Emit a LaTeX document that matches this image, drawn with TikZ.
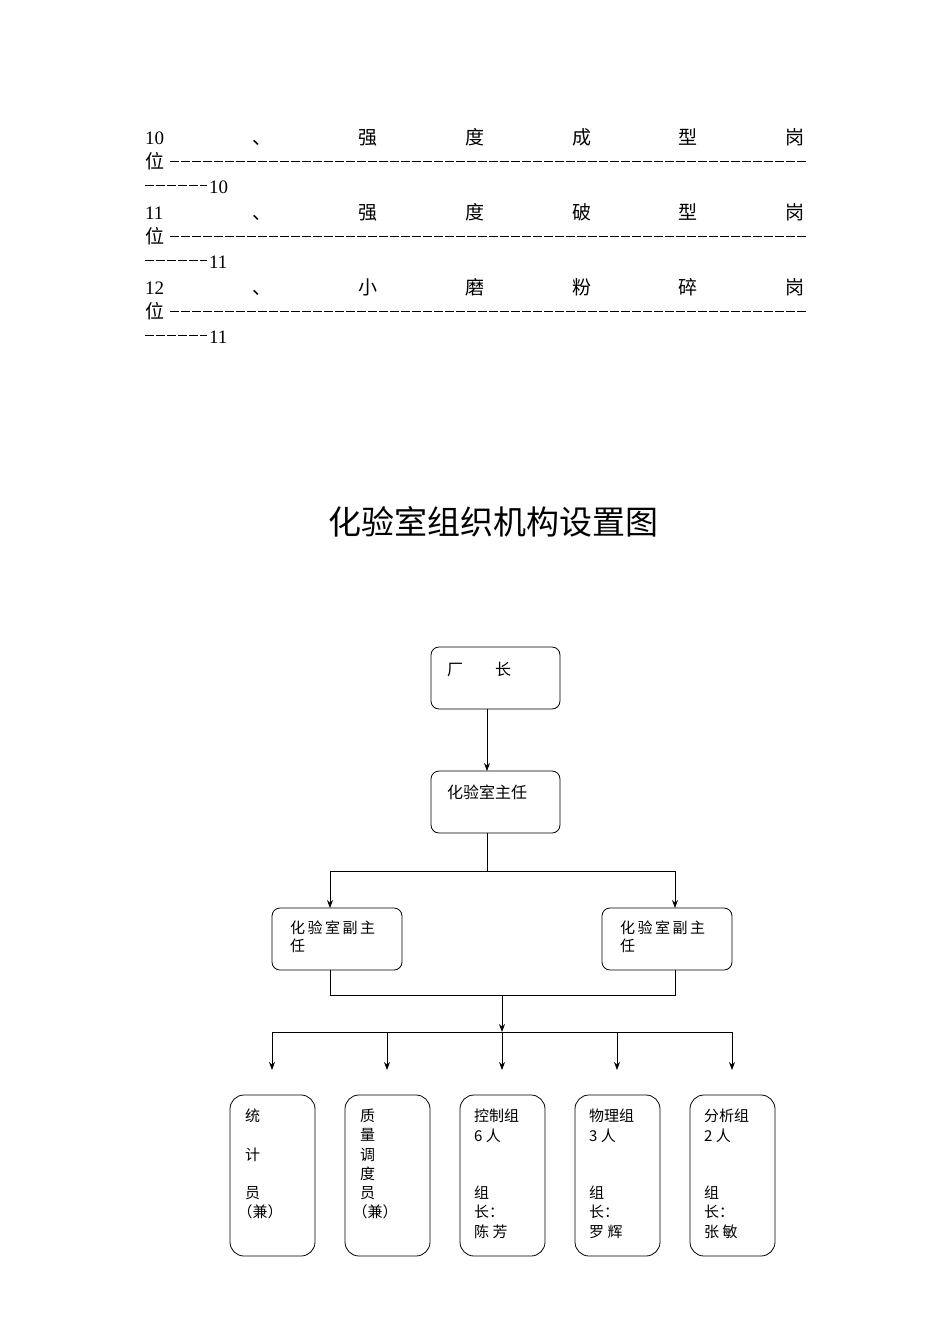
\documentclass[tikz,border=0pt]{standalone}
\usepackage{fontspec}
\setmainfont{Liberation Serif}
\newfontfamily\cjk{Noto Sans CJK SC}
\usetikzlibrary{arrows.meta}
\begin{document}
\begin{tikzpicture}[x=1pt,y=-1pt,
  box/.style={draw,rounded corners=8pt,line width=0.8pt},
  t/.style={anchor=west,inner sep=0pt,font=\cjk\fontsize{16}{19}\selectfont,align=left},
  top/.style={anchor=base,inner sep=0pt,font=\cjk\fontsize{19}{22}\selectfont},
  dl/.style={line width=1pt,dash pattern=on 9pt off 2pt},
  arr/.style={-{Stealth[length=8pt,width=6pt]},line width=0.8pt},
  ln/.style={line width=0.8pt}]
\useasboundingbox (0,0) rectangle (950,1344);
% top list
\foreach \n/\a/\b/\c/\d/\e/\y/\m in {10/强/度/成/型/岗/137/10,11/强/度/破/型/岗/212/11,12/小/磨/粉/碎/岗/287/11}{
  \node[top,anchor=base west,font=\fontsize{19}{22}\selectfont] at (145,\y+7) {\n};
  \node[top] at (262,\y+7) {、};
  \node[top] at (368,\y+7) {\a};
  \node[top] at (475,\y+7) {\b};
  \node[top] at (582,\y+7) {\c};
  \node[top] at (688,\y+7) {\d};
  \node[top] at (795,\y+7) {\e};
  \node[top] at (155,\y+31) {位};
  \draw[dl] (170,\y+24) -- (806,\y+24);
  \draw[dl] (145,\y+48) -- (207,\y+48);
  \node[top,anchor=base west,font=\fontsize{19}{22}\selectfont] at (209,\y+56) {\m};
}
\node[font=\cjk\fontsize{33}{36}\selectfont] (title) at (493,522) {化验室组织机构设置图};
% boxes
\draw[box] (431,647) rectangle (560,709) coordinate (cz);
\node[t] (cztxt) at (447,669) {厂\hspace{2em}长};
\draw[box] (431,771) rectangle (560,833);
\node[t] (zr) at (447,792) {化验室主任};
\coordinate (czb) at (487,709); \coordinate (zrt) at (487,771); \coordinate (zrb) at (487,833);
\draw[arr] (czb) -- (zrt);
\coordinate (s1) at (487,871);
\draw[ln] (zrb) -- (s1);
\coordinate (hl) at (330,871); \coordinate (hr) at (675,871);
\draw[ln] (hl) -- (hr);
\coordinate (d1t) at (330,908); \coordinate (d2t) at (675,908);
\draw[arr] (hl) -- (d1t); \draw[arr] (hr) -- (d2t);
\draw[box] (272,908) rectangle (402,970);
\draw[box] (602,908) rectangle (732,970);
\node[t,font=\cjk\fontsize{15}{18}\selectfont] (f1) at (290,937) {化\,验\,室\,副\,主\\任};
\node[t,font=\cjk\fontsize{15}{18}\selectfont] (f2) at (620,937) {化\,验\,室\,副\,主\\任};
\coordinate (d1b) at (330,970); \coordinate (d2b) at (675,970);
\coordinate (j1) at (330,995); \coordinate (j2) at (675,995); \coordinate (jm) at (502,995);
\draw[ln] (d1b) -- (j1) -- (j2) -- (d2b);
\coordinate (bm) at (502,1032);
\draw[arr] (jm) -- (bm);
\coordinate (bl) at (272,1032); \coordinate (br) at (732,1032);
\draw[ln] (bl) -- (br);
\foreach \x in {272,387,502,617,732}{
  \coordinate (a\x) at (\x,1032); \coordinate (b\x) at (\x,1070);
  \draw[arr] (a\x) -- (b\x);}
\foreach \x in {230,345,460,575,690}{
  \draw[box,rounded corners=14pt] (\x,1095) rectangle (\x+85,1256);}
\tikzset{bt/.style={t,font=\cjk\fontsize{15}{19.2}\selectfont,anchor=north west}}
\node[bt] (n1) at (245,1109) {统\\[19.2pt]计\\[19.2pt]员\\\hspace{-0.5em}（兼）};
\node[bt] (n2) at (360,1109) {质\\量\\调\\度\\员\\\hspace{-0.5em}（兼）};
\node[bt] (n3) at (474,1109) {控制组\\6 人\\[38.4pt]组\\长：\\陈 芳};
\node[bt] (n4) at (589,1109) {物理组\\3 人\\[38.4pt]组\\长：\\罗 辉};
\node[bt] (n5) at (704,1109) {分析组\\2 人\\[38.4pt]组\\长：\\张 敏};
\end{tikzpicture}
\end{document}
